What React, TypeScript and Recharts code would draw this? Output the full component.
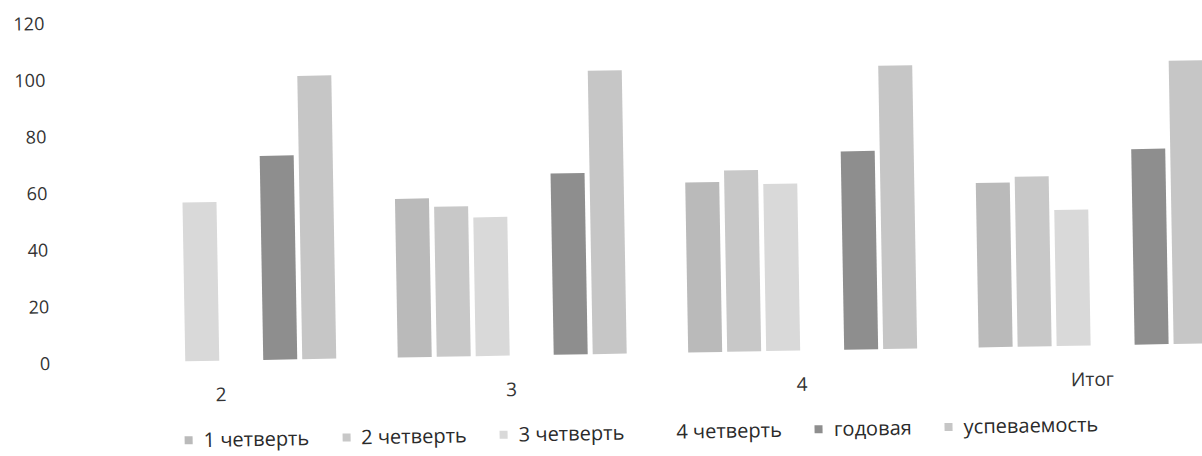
import React from "react";
import { BarChart, Bar, XAxis, YAxis, Legend } from "recharts";

// categories (classes) and per-quarter values
const CATEGORIES = ["2", "3", "4", "Итог"];
const Q1 = [null, 56, 60, 58];
const Q2 = [null, 53, 64, 60];
const Q3 = [56, 49, 59, 48];
const Q4 = [null, null, null, null];
const YEARLY = [72, 64, 70, 69];
const SUCCESS = [100, 100, 100, 100];
const Y_TICKS = [0, 20, 40, 60, 80, 100, 120];

const SERIES = [
  { key: "q1", name: "1 четверть", color: "#bababa" },
  { key: "q2", name: "2 четверть", color: "#c8c8c8" },
  { key: "q3", name: "3 четверть", color: "#d9d9d9" },
  { key: "q4", name: "4 четверть", color: "#ffffff" },
  { key: "year", name: "годовая", color: "#8e8e8e" },
  { key: "ok", name: "успеваемость", color: "#c6c6c6" },
];

const data = CATEGORIES.map((name, i) => ({
  name,
  q1: Q1[i],
  q2: Q2[i],
  q3: Q3[i],
  q4: Q4[i],
  year: YEARLY[i],
  ok: SUCCESS[i],
}));

function LegendRow({ payload }: any) {
  return (
    <div style={{ display: "flex", alignItems: "center", paddingLeft: 181, fontSize: 20, color: "#2a2a2a", lineHeight: "24px" }}>
      {(payload || []).map((p: any) => (
        <div key={p.value} style={{ display: "flex", alignItems: "center", marginRight: 33 }}>
          <span style={{ display: "inline-block", width: 8, height: 8, background: p.color, marginRight: 11 }} />
          <span>{p.value}</span>
        </div>
      ))}
    </div>
  );
}

export default function App() {
  return (
    <div style={{ position: "fixed", left: 0, top: 0, width: 1202, height: 456, overflow: "hidden", background: "#fff" }}>
      <div
        style={{
          width: 1245,
          height: 456,
          fontFamily: "'Open Sans', sans-serif",
          transform: "rotate(-1deg)",
          transformOrigin: "600px 228px",
        }}
      >
        <BarChart
          width={1245}
          height={456}
          data={data}
          margin={{ top: 14, right: 10, bottom: 72, left: 0 }}
          barCategoryGap={32}
          barGap={5}
        >
          <XAxis
            dataKey="name"
            axisLine={false}
            tickLine={false}
            tickMargin={21}
            tick={{ fontSize: 19, fill: "#333" }}
          />
          <YAxis
            width={73}
            domain={[0, 120]}
            ticks={Y_TICKS}
            axisLine={false}
            tickLine={false}
            tickMargin={19}
            tick={{ fontSize: 18, fill: "#333" }}
          />
          <Legend
            verticalAlign="middle"
            align="center"
            wrapperStyle={{ top: 421, left: 0, width: 1245 }}
            content={<LegendRow />}
          />
          {SERIES.map((s) => (
            <Bar key={s.key} dataKey={s.key} name={s.name} fill={s.color} isAnimationActive={false} />
          ))}
        </BarChart>
      </div>
    </div>
  );
}
